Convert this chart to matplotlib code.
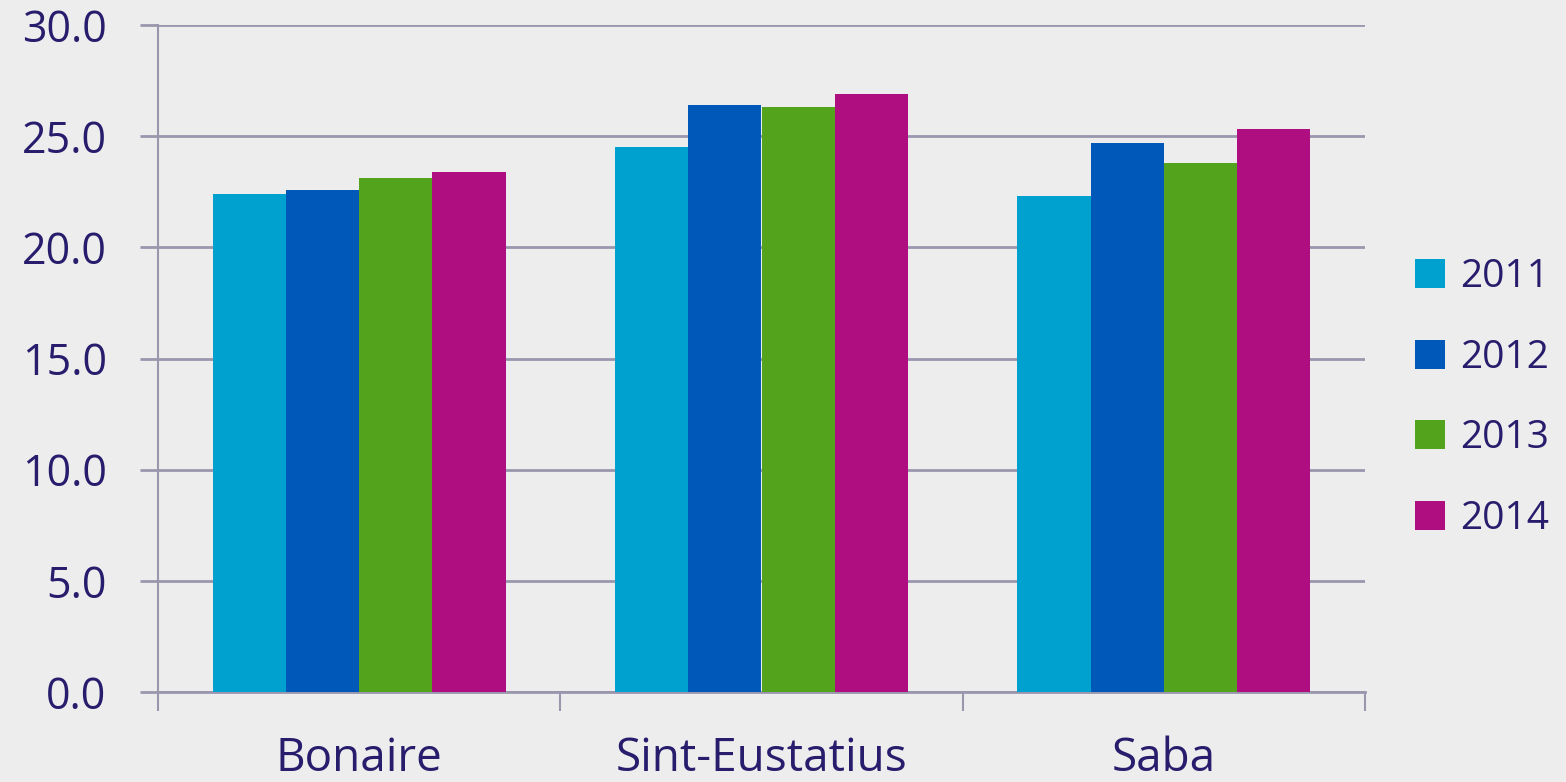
import numpy as np
import matplotlib.pyplot as plt
from matplotlib.patches import Patch

islands = ["Bonaire", "Sint-Eustatius", "Saba"]
years = ["2011", "2012", "2013", "2014"]
values_2011 = [22.4, 24.5, 22.3]
values_2012 = [22.6, 26.4, 24.7]
values_2013 = [23.1, 26.3, 23.8]
values_2014 = [23.4, 26.9, 25.3]
y_ticks = [0, 5, 10, 15, 20, 25, 30]

colors = ["#00a1cf", "#0058b8", "#53a31d", "#af0e80"]
text_color = "#271d6c"
grid_color = "#9a96ae"
bg = "#ededed"

plt.rcParams['font.family'] = ['Open Sans', 'DejaVu Sans']

fig = plt.figure(figsize=(15.66, 7.82), dpi=100, facecolor=bg)
ax = fig.add_axes([158 / 1566, 90 / 782, 1207 / 1566, 667 / 782])
ax.set_facecolor(bg)

series = [values_2011, values_2012, values_2013, values_2014]
x = np.arange(len(islands))
bw = 0.182
for i, vals in enumerate(series):
    ax.bar(x + (i - 1.5) * bw, vals, bw, color=colors[i], zorder=3)

ax.set_xlim(-0.5, 2.5)
ax.set_ylim(0, 30)
ax.set_yticks(y_ticks)
ax.set_yticklabels([f"{v:.1f}" for v in y_ticks])
ax.yaxis.grid(True, color=grid_color, linewidth=2, zorder=0)

ax.set_xticks([-0.5, 0.5, 1.5, 2.5])
ax.set_xticklabels([])
ax.set_xticks(x, minor=True)
ax.set_xticklabels(islands, minor=True)
ax.tick_params(axis='x', which='major', length=14, width=1.5, color=grid_color)
ax.tick_params(axis='x', which='minor', length=0, pad=32, labelsize=33,
               labelcolor=text_color)
ax.tick_params(axis='y', length=13, width=2, color=grid_color, pad=24,
               labelsize=31, labelcolor=text_color)

for s in ["top", "right"]:
    ax.spines[s].set_visible(False)
ax.spines["left"].set_color(grid_color)
ax.spines["left"].set_linewidth(1.5)
ax.spines["bottom"].set_color(grid_color)
ax.spines["bottom"].set_linewidth(2)

handles = [Patch(facecolor=c) for c in colors]
fig.legend(handles, years, loc="center left", bbox_to_anchor=(1380 / 1566, 0.491),
           frameon=False, fontsize=28, labelcolor=text_color,
           handlelength=0.77, handleheight=0.77, handletextpad=0.4,
           labelspacing=1.1)

fig.savefig("out.png", dpi=100, facecolor=bg)
